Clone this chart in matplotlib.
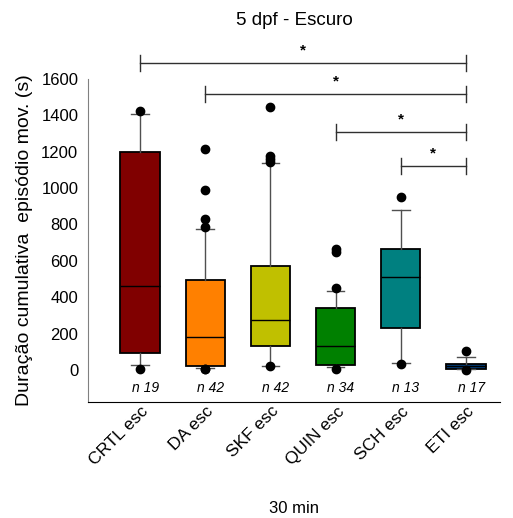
import matplotlib
matplotlib.use("Agg")
import matplotlib.pyplot as plt
import matplotlib.transforms as mtrans

plt.rcParams['font.family'] = ['Liberation Sans', 'DejaVu Sans']

# groups and box statistics (s)
groups = ['CRTL esc', 'DA esc', 'SKF esc', 'QUIN esc', 'SCH esc', 'ETI esc']
counts = ['n 19', 'n 42', 'n 42', 'n 34', 'n 13', 'n 17']
medians = [460, 181, 275, 132, 509, 20]
q1s = [95, 20, 134, 27, 231, 4]
q3s = [1197, 496, 573, 342, 665, 31]
whis_lo = [27, 10, 24, 15, 40, 4]
whis_hi = [1405, 775, 1137, 432, 881, 73]
fliers = [[1423, 5],
          [1214, 989, 828, 784, 5, 3],
          [1447, 1178, 1159, 1145, 20],
          [663, 648, 452, 5],
          [949, 33],
          [106, 0]]
colors = ['#800000', '#ff8000', '#c0c000', '#008000', '#008080', '#004080']

# significance brackets: (from group, to group, height)
brackets = [(1, 6, 1688), (2, 6, 1516), (4, 6, 1310), (5, 6, 1121)]

positions = list(range(1, len(groups) + 1))
stats = []
for i in range(len(groups)):
    stats.append(dict(med=medians[i], q1=q1s[i], q3=q3s[i],
                      whislo=whis_lo[i], whishi=whis_hi[i],
                      fliers=fliers[i], label=groups[i]))

fig = plt.figure(figsize=(5.13, 5.18), dpi=100)
ax = fig.add_axes([0.1715, 0.224, 0.803, 0.6236])

bp = ax.bxp(stats, positions=positions, widths=0.6, capwidths=0.27,
            patch_artist=True,
            boxprops=dict(edgecolor='black', linewidth=1.3),
            medianprops=dict(color='black', linewidth=1.0),
            whiskerprops=dict(color='#505050', linewidth=1.0),
            capprops=dict(color='#505050', linewidth=1.0),
            flierprops=dict(marker='o', markerfacecolor='black',
                            markeredgecolor='black', markersize=6))
for patch, c in zip(bp['boxes'], colors):
    patch.set_facecolor(c)

ax.set_xlim(0.2025, 6.52)
ax.set_ylim(-176, 1600)
ax.set_yticks(range(0, 1601, 200))
ax.tick_params(axis='y', length=0, pad=7, labelsize=12)
ax.tick_params(axis='x', length=0, pad=5, labelsize=12.5)
ax.set_xticks(positions)
ax.set_xticklabels(groups, rotation=45, ha='right', va='center',
                   rotation_mode='anchor')
shift = mtrans.ScaledTranslation(6 / 100, 0, fig.dpi_scale_trans)
for lab in ax.get_xticklabels():
    lab.set_transform(lab.get_transform() + shift)

for s in ['top', 'right']:
    ax.spines[s].set_visible(False)
ax.spines['left'].set_color('#808080')
ax.spines['bottom'].set_color('black')

for p, n in zip(positions, counts):
    ax.text(p + 0.08, -99, n, ha='center', va='center', fontsize=10,
            style='italic')

for a, b, h in brackets:
    ax.plot([a, b], [h, h], color='#303030', lw=1.0, clip_on=False)
    ax.plot([a, a], [h - 45, h + 45], color='#303030', lw=1.0, clip_on=False)
    ax.plot([b, b], [h - 45, h + 45], color='#303030', lw=1.0, clip_on=False)
    ax.text((a + b) / 2, h + 30, '*', ha='center', va='bottom',
            fontsize=11, fontweight='bold', clip_on=False)

ax.set_title('5 dpf - Escuro', fontsize=13.5, pad=39)
ax.set_ylabel('Duração cumulativa  episódio mov. (s)', fontsize=14, labelpad=6)
ax.set_xlabel('30 min', fontsize=12, labelpad=24)

fig.savefig('out.png', dpi=100)
